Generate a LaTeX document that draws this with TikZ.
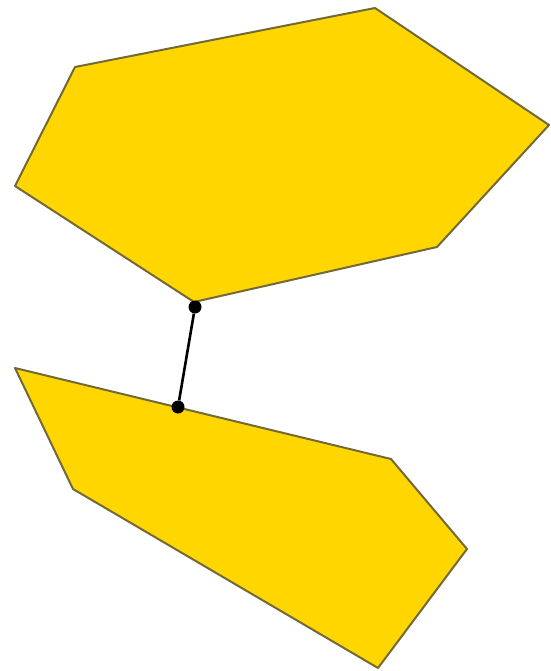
\documentclass[tikz,border=0pt]{standalone}
\begin{document}
\begin{tikzpicture}[x=1pt,y=-1pt,
  poly/.style={fill={rgb,255:red,255;green,214;blue,0},draw={rgb,255:red,115;green,105;blue,55},line width=2pt,line join=round},
  dotpt/.style={circle,fill=black,inner sep=0pt,minimum size=13pt},
  link/.style={draw=black,line width=2.6pt}]
\useasboundingbox (0,0) rectangle (550,671);
\draw[poly] (75,67) -- (375,8) -- (549,125) -- (437,247) -- (194,302) -- (15,186) -- cycle;
\draw[poly] (15,368) -- (391,459) -- (467,549) -- (378,668) -- (73,489) -- cycle;
\node[dotpt] (a) at (195,307) {};
\node[dotpt] (b) at (178,407) {};
\draw[link] (a) -- (b);
\end{tikzpicture}
\end{document}
